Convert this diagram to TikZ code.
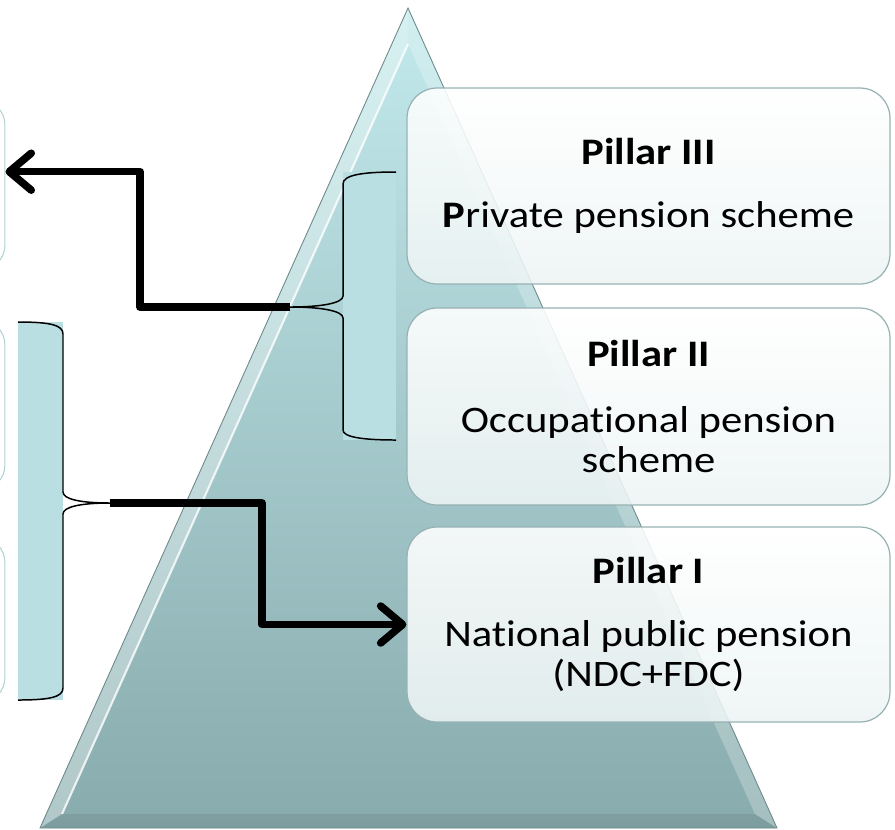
\documentclass[tikz,border=0pt]{standalone}
\usepackage{fontspec}
\setmainfont{Carlito}[FakeStretch=1.14, Ligatures=NoCommon]
\usetikzlibrary{arrows.meta,positioning}

\definecolor{pyrtop}{HTML}{C2E9EC}
\definecolor{pyrbot}{HTML}{88ABAD}
\definecolor{bandfill}{HTML}{B9DFE2}
\definecolor{boxline}{HTML}{98B2B4}
\definecolor{boxfill}{HTML}{EDF4F4}
\definecolor{ghostline}{HTML}{B3D2D4}

\tikzset{
  pillar/.style={draw=boxline, line width=0.7pt, rounded corners=0.6cm,
    top color=white, bottom color=boxfill, fill opacity=0.88, text opacity=1,
    minimum width=9.66cm, align=center, inner sep=0pt,
    font=\fontsize{21.3}{22.8}\selectfont},
  ghost/.style={draw=ghostline, line width=0.6pt, fill=white,
    rounded corners=0.5cm, minimum width=6.1cm},
  band/.style={fill=bandfill, inner sep=0pt},
  brace/.style={line width=0.85pt},
  arr/.style={line width=4.3pt, line join=round,
    -{Straight Barb[length=0.44cm, width=0.74cm, round]}}
}

\begin{document}
\begin{tikzpicture}[x=0.02cm, y=-0.02cm]
    \clip (0,0) rectangle (895,829);

    % pyramid
    \coordinate (apex) at (408,8);
    \coordinate (bl) at (40,828);
    \coordinate (br) at (777,828);
    \coordinate (iapex) at (408,44);
    \coordinate (ibl) at (62,814);
    \coordinate (ibr) at (755,814);
    \shade[top color=pyrtop, bottom color=pyrbot] (apex) -- (br) -- (bl) -- cycle;
    \fill[white, opacity=0.35] (apex) -- (bl) -- (ibl) -- (iapex) -- cycle;
    \fill[white, opacity=0.25] (apex) -- (br) -- (ibr) -- (iapex) -- cycle;
    \fill[black, opacity=0.08] (bl) -- (br) -- (ibr) -- (ibl) -- cycle;
    \draw[white, line width=1.2pt, opacity=0.8] (ibl) -- (iapex);
    \draw[pyrbot!80!black, line width=0.5pt] (apex) -- (br) -- (bl) -- cycle;

    % boxes cut off at the left
    \foreach \n/\y/\h in {lboxA/185/170, lboxB/405/170, lboxC/620/165}
      \node[ghost, minimum height=\h*0.02cm] (\n) at (-147.5,\y) {};

    % bands with braces
    \node[band, minimum width=0.9cm, minimum height=7.56cm] (lband) at (40.5,511) {};
    \node[band, minimum width=1.06cm, minimum height=5.36cm] (rband) at (369.5,306) {};
    \coordinate (ltip) at (110,503);
    \coordinate (rtip) at (290,307);

    \draw[brace] (18,322) .. controls (50,322) and (63,325) .. (63,334)
      -- (63,492) .. controls (63,499) and (80,503) .. (ltip)
      .. controls (80,503) and (63,507) .. (63,514)
      -- (63,688) .. controls (63,697) and (50,700) .. (18,700);
    \draw[brace] (396,172) .. controls (362,172) and (343,175) .. (343,184)
      -- (343,296) .. controls (343,303) and (322,307) .. (rtip)
      .. controls (322,307) and (343,311) .. (343,318)
      -- (343,430) .. controls (343,437) and (362,440) .. (396,440);

    % pillars
    \node[pillar, minimum height=3.92cm] (p3) at (648.5,186)
      {\textbf{Pillar III}\\[0.45cm] \textbf{P}rivate pension scheme};
    \node[pillar, minimum height=3.94cm] (p2) at (648.5,406.5)
      {\textbf{Pillar II}\\[0.5cm] Occupational pension\\ scheme};
    \node[pillar, minimum height=3.9cm] (p1) at (648.5,624.5)
      {\textbf{Pillar I}\\[0.45cm] National public pension\\ (NDC+FDC)};

    \draw[arr] (rtip) -- (140,307) |- (lboxA.east |- rband.north);
    \draw[arr] (ltip) -- (262,503) |- (p1.west);
\end{tikzpicture}
\end{document}
